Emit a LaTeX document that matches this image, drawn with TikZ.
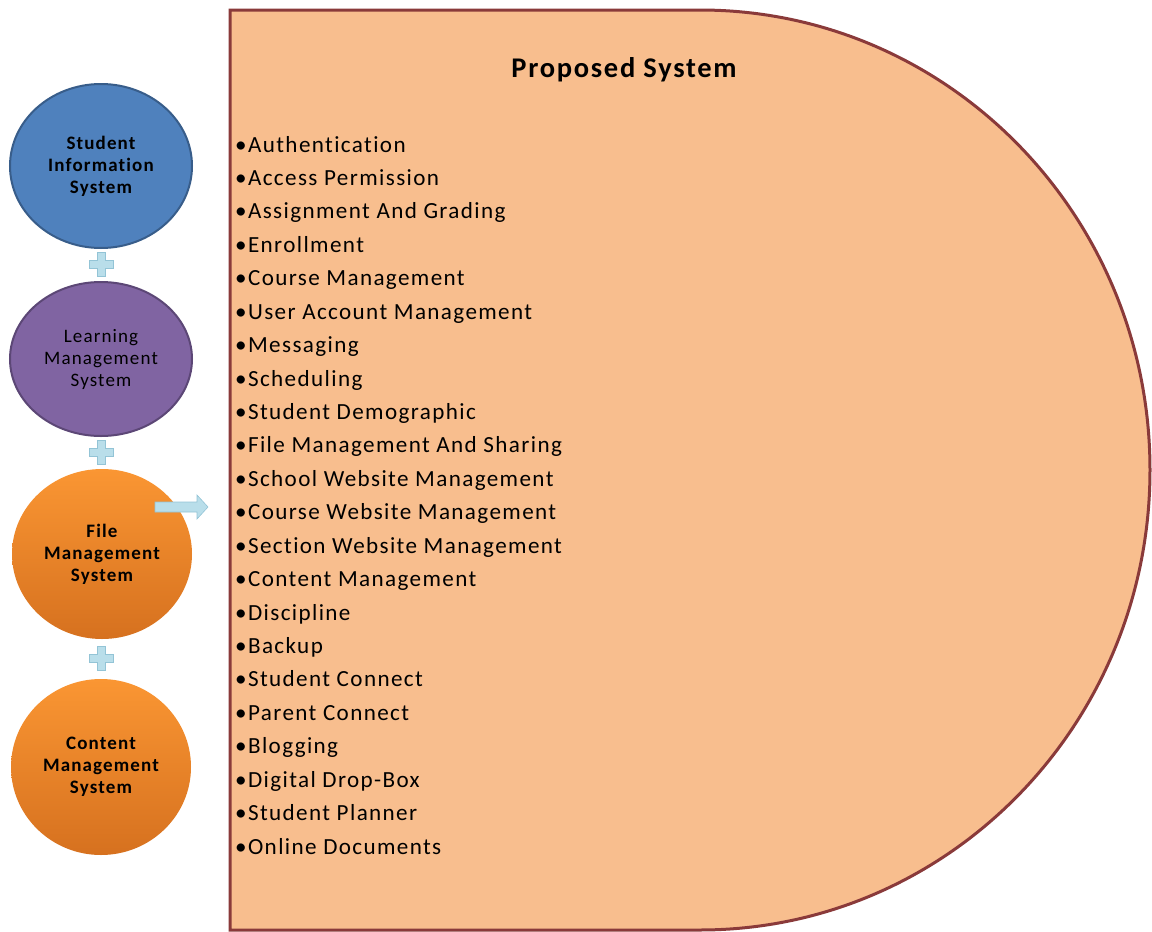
\documentclass[tikz,border=0pt]{standalone}
\usepackage{fontspec}
\setmainfont{Carlito}[LetterSpace=6, Ligatures=NoCommon]
\usetikzlibrary{shapes.geometric}
\definecolor{dfill}{HTML}{F8BE8E}
\definecolor{dline}{HTML}{8A3A3A}
\definecolor{sisfill}{HTML}{4F81BD}
\definecolor{sisline}{HTML}{385D8A}
\definecolor{lmsfill}{HTML}{8064A2}
\definecolor{lmsline}{HTML}{5C4776}
\definecolor{orTop}{HTML}{FA9633}
\definecolor{orBot}{HTML}{D6711F}
\definecolor{plusfill}{HTML}{B9DEEA}
\definecolor{plusline}{HTML}{93C4D6}
\tikzset{
  sysbubble/.style={ellipse, minimum width=182pt, minimum height=164pt, inner sep=0pt,
    align=center, font=\fontsize{19}{22}\selectfont, text=black, line width=2pt},
  listitem/.style={anchor=base west, inner sep=0pt, font=\fontsize{23.1}{24}\selectfont},
  plusmark/.style={fill=plusfill, draw=plusline, line width=0.6pt},
}
\begin{document}
\begin{tikzpicture}[x=1pt,y=-1pt]
\useasboundingbox (0,0) rectangle (1152,932);
% Proposed system panel
\draw[fill=dfill, draw=dline, line width=3pt]
  (230,930) -- (230,10) -- (700,10)
  arc[start angle=90, end angle=-90, x radius=450pt, y radius=460pt] -- cycle;
\node[anchor=base, inner sep=0pt, font=\fontsize{28.5}{30}\selectfont\bfseries] (title) at (624,77) {Proposed System};
\foreach \t [count=\i] in {Authentication, Access Permission, Assignment And Grading, Enrollment,
  Course Management, User Account Management, Messaging, Scheduling, Student Demographic,
  File Management And Sharing, School Website Management, Course Website Management,
  Section Website Management, Content Management, Discipline, Backup, Student Connect,
  Parent Connect, Blogging, Digital Drop-Box, Student Planner, Online Documents}
  \node[listitem] (item\i) at (235,{152+33.43*(\i-1)}) {•\t};
% bubbles
\node[sysbubble, fill=sisfill, draw=sisline] (sis) at (101,166) {\bfseries Student\\\bfseries Information\\\bfseries System};
\node[sysbubble, fill=lmsfill, draw=lmsline, minimum height=154pt] (lms) at (101,359) {Learning\\Management\\System};
\node[sysbubble, top color=orTop, bottom color=orBot, draw=none, minimum height=170pt, minimum width=180pt] (fms) at (102,554) {\bfseries File\\\bfseries Management\\\bfseries System};
\node[sysbubble, top color=orTop, bottom color=orBot, draw=none, minimum height=176pt, minimum width=180pt] (cms) at (101,767) {\bfseries Content\\\bfseries Management\\\bfseries System};
% plus signs
\foreach \n/\yy in {p1/264, p2/452, p3/658} {
  \coordinate (\n) at (101,\yy);
  \draw[plusmark] ([shift={(-4,-12)}]\n) -- ([shift={(4,-12)}]\n) -- ([shift={(4,-4)}]\n) -- ([shift={(12,-4)}]\n)
    -- ([shift={(12,4)}]\n) -- ([shift={(4,4)}]\n) -- ([shift={(4,12)}]\n) -- ([shift={(-4,12)}]\n)
    -- ([shift={(-4,4)}]\n) -- ([shift={(-12,4)}]\n) -- ([shift={(-12,-4)}]\n) -- ([shift={(-4,-4)}]\n) -- cycle;
}
% arrow
\coordinate (arr) at (155,507);
\draw[plusmark] ([shift={(0,-5)}]arr) -- ([shift={(42,-5)}]arr) -- ([shift={(42,-12)}]arr) -- ([shift={(53,0)}]arr)
  -- ([shift={(42,12)}]arr) -- ([shift={(42,5)}]arr) -- ([shift={(0,5)}]arr) -- cycle;
\end{tikzpicture}
\end{document}
